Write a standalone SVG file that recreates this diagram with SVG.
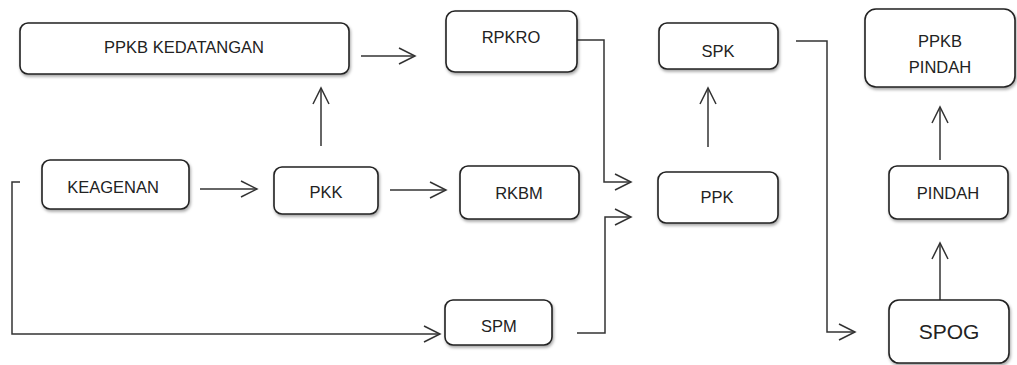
<svg xmlns="http://www.w3.org/2000/svg" width="1017" height="365" viewBox="0 0 1017 365">
<style>
.box{fill:#fff;stroke:#222;stroke-width:1.6;filter:url(#sh)}
.t{font-family:"Liberation Sans",Arial,sans-serif;font-size:16.5px;fill:#222;text-anchor:middle}
.c{fill:none;stroke:#333;stroke-width:1.5}
</style>
<defs>
<filter id="sh" x="-10%" y="-20%" width="130%" height="160%">
<feDropShadow dx="1" dy="2" stdDeviation="1.5" flood-color="#000" flood-opacity="0.35"/>
</filter>
<marker id="ah" markerUnits="userSpaceOnUse" markerWidth="20" markerHeight="20" viewBox="-18 -10 20 20" refX="0" refY="0" orient="auto">
<path d="M-16,-8 L0,0 L-16,8" fill="none" stroke="#333" stroke-width="1.5"/>
</marker>
</defs>
<rect width="1017" height="365" fill="#fff"/>
<g id="connectors">
<path class="c" d="M361,56 H415" marker-end="url(#ah)"/>
<path class="c" d="M321,146 V88" marker-end="url(#ah)"/>
<path class="c" d="M200,189 H257" marker-end="url(#ah)"/>
<path class="c" d="M390,190 H446" marker-end="url(#ah)"/>
<path class="c" d="M577,40 H604 V182 H631" marker-end="url(#ah)"/>
<path class="c" d="M577,333 H605 V217 H631" marker-end="url(#ah)"/>
<path class="c" d="M708,147 V88" marker-end="url(#ah)"/>
<path class="c" d="M796,41 H827 V332 H855" marker-end="url(#ah)"/>
<path class="c" d="M940,160 V107" marker-end="url(#ah)"/>
<path class="c" d="M940,300 V243" marker-end="url(#ah)"/>
<path class="c" d="M20,182 H12 V334 H440" marker-end="url(#ah)"/>
</g>
<g id="ppkb-kedatangan"><rect class="box" x="20" y="23" width="329" height="51" rx="8"/><text class="t" x="184" y="53">PPKB KEDATANGAN</text></g>
<g id="rpkro"><rect class="box" x="446" y="11" width="131" height="61" rx="9"/><text class="t" x="511" y="43">RPKRO</text></g>
<g id="spk"><rect class="box" x="659" y="23" width="119" height="46" rx="8"/><text class="t" x="718" y="57">SPK</text></g>
<g id="ppkb-pindah"><rect class="box" x="865" y="9" width="150" height="78" rx="11"/><text class="t" x="940" y="47">PPKB</text><text class="t" x="940" y="73">PINDAH</text></g>
<g id="keagenan"><rect class="box" x="42" y="160" width="147" height="49" rx="8"/><text class="t" x="113" y="193">KEAGENAN</text></g>
<g id="pkk"><rect class="box" x="274" y="167" width="104" height="47" rx="8"/><text class="t" x="326" y="198">PKK</text></g>
<g id="rkbm"><rect class="box" x="460" y="166" width="119" height="53" rx="8"/><text class="t" x="519" y="199">RKBM</text></g>
<g id="ppk"><rect class="box" x="658" y="172" width="120" height="51" rx="8"/><text class="t" x="717" y="203">PPK</text></g>
<g id="pindah"><rect class="box" x="889" y="166" width="119" height="53" rx="8"/><text class="t" x="948" y="199">PINDAH</text></g>
<g id="spm"><rect class="box" x="445" y="300" width="107" height="45" rx="8"/><text class="t" x="499" y="332">SPM</text></g>
<g id="spog"><rect class="box" x="889" y="300" width="120" height="63" rx="10"/><text class="t" x="949" y="339" style="font-size:21px">SPOG</text></g>
</svg>
